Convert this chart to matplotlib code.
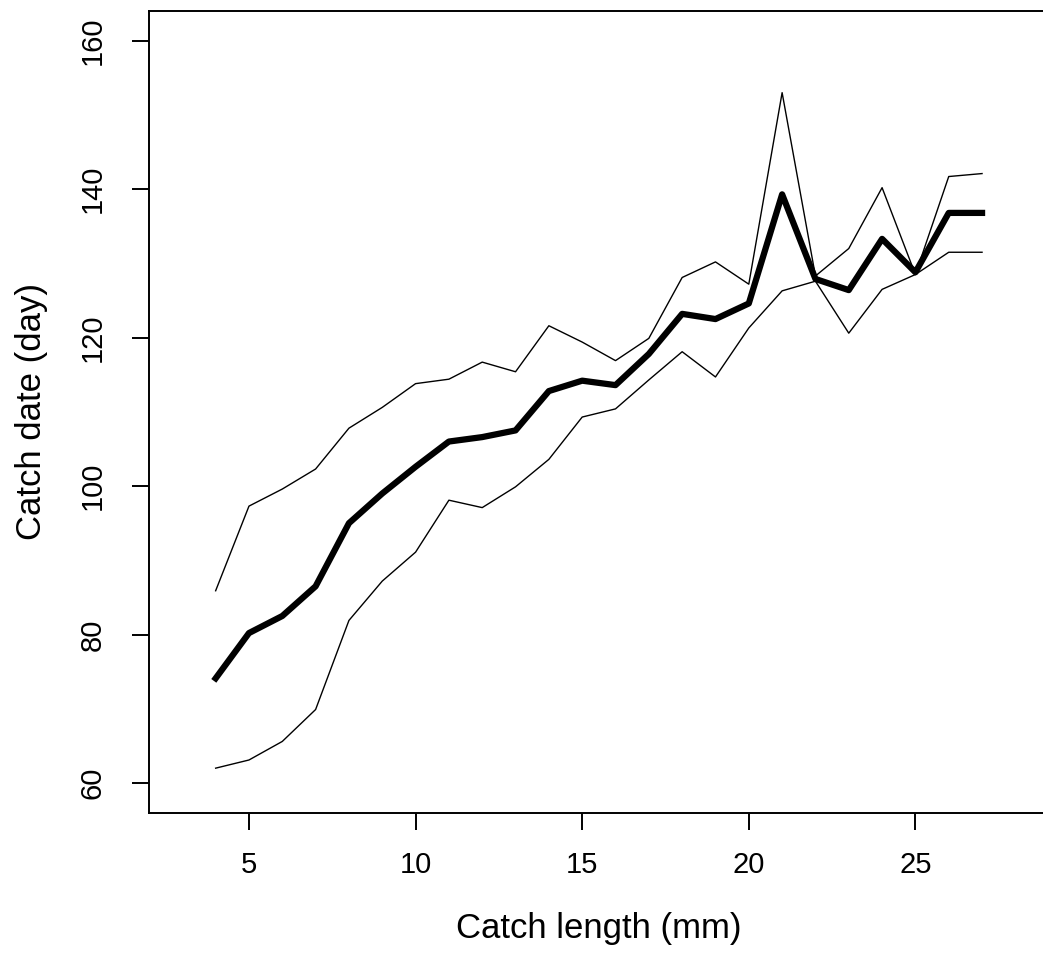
import numpy as np
import matplotlib
matplotlib.use("Agg")
import matplotlib.pyplot as plt

plt.rcParams["font.family"] = ["Liberation Sans", "DejaVu Sans"]

# catch length (mm)
length = [4, 5, 6, 7, 8, 9, 10, 11, 12, 13, 14, 15, 16, 17, 18, 19, 20, 21,
          22, 23, 24, 25, 26, 27]

# catch date (day): central line and the two outer lines
date_mid = [74.1, 80.2, 82.5, 86.5, 95.0, 99.0, 102.6, 106.0, 106.6, 107.5,
            112.8, 114.2, 113.6, 117.8, 123.2, 122.5, 124.6, 139.3, 127.9,
            126.4, 133.3, 128.8, 136.8, 136.8]
date_upper = [85.9, 97.3, 99.6, 102.3, 107.8, 110.6, 113.8, 114.4, 116.7,
              115.4, 121.6, 119.4, 116.9, 119.9, 128.1, 130.2, 127.2, 153.0,
              128.3, 132.0, 140.2, 128.5, 141.7, 142.1]
date_lower = [62.0, 63.1, 65.6, 69.9, 81.9, 87.2, 91.1, 98.1, 97.1, 99.9,
              103.6, 109.3, 110.4, 114.3, 118.1, 114.7, 121.3, 126.3, 127.6,
              120.6, 126.5, 128.5, 131.5, 131.5]

x_ticks = [5, 10, 15, 20, 25]
y_ticks = [60, 80, 100, 120, 140, 160]

fig = plt.figure(figsize=(10.43, 9.58), dpi=100)
# the original is cropped on the right, so the box runs off the edge
ax = fig.add_axes([0.14286, 0.15167, 0.86260, 0.83685])

ax.plot(length, date_upper, color="black", lw=1.0)
ax.plot(length, date_lower, color="black", lw=1.0)
ax.plot(length, date_mid, color="black", lw=4.5, solid_joinstyle="round")

ax.set_xlim(2, 29)
ax.set_ylim(56, 164)
ax.set_xticks(x_ticks)
ax.set_yticks(y_ticks)

for s in ax.spines.values():
    s.set_linewidth(1.4)
ax.spines["right"].set_visible(False)

ax.tick_params(axis="both", direction="out", length=12.5, width=1.4,
               labelsize=21, colors="black")
ax.tick_params(axis="x", pad=15)
ax.tick_params(axis="y", pad=18)
for lab in ax.get_yticklabels():
    lab.set_rotation(90)
    lab.set_va("center")

ax.set_xlabel("Catch length (mm)", fontsize=25, labelpad=24)
ax.set_ylabel("Catch date (day)", fontsize=25, labelpad=22)

fig.savefig("out.png", dpi=100)
